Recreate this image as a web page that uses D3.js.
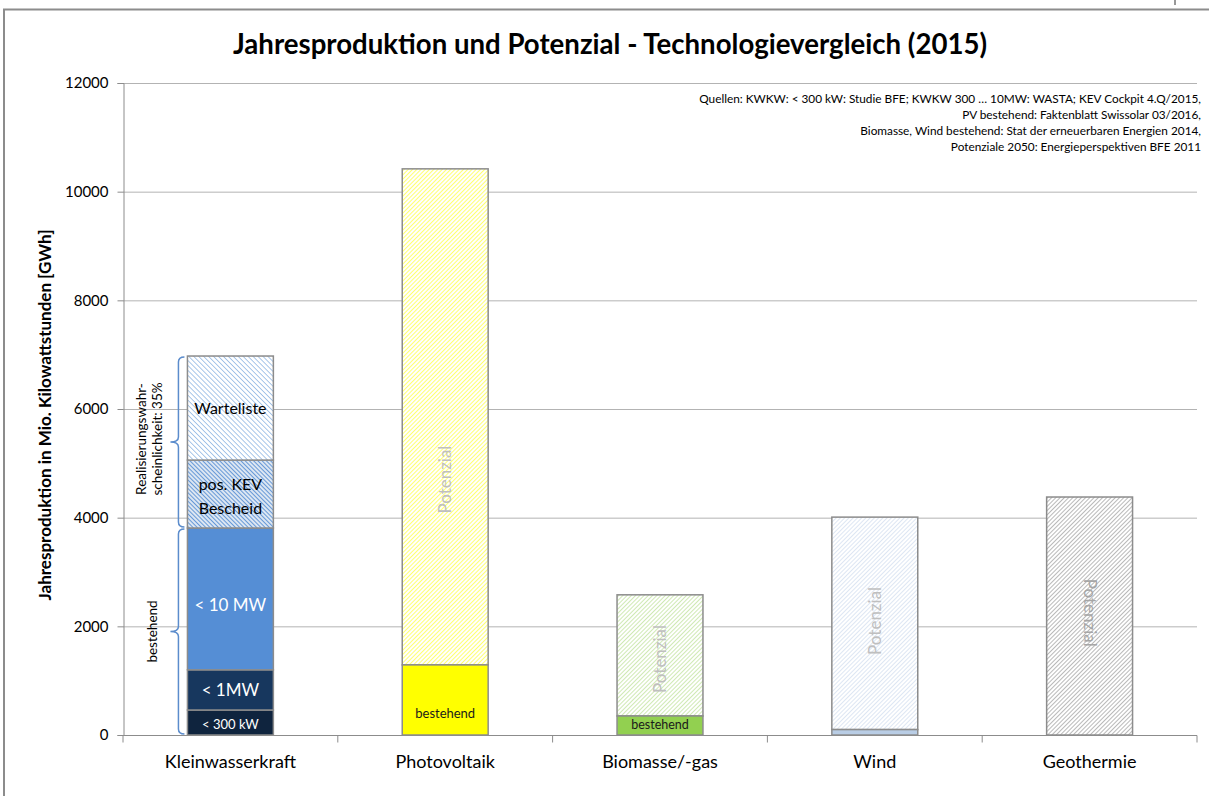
<!DOCTYPE html>
<html>
<head>
<meta charset="utf-8">
<title>Jahresproduktion und Potenzial</title>
<script src="https://cdn.jsdelivr.net/npm/d3@7"></script>
<style>
  body { margin: 0; background: #fff; }
  text { font-family: Lato, "Open Sans", sans-serif; }
</style>
</head>
<body>
<svg id="chart" width="1209" height="796"></svg>
<script>
// --- data ---
const categories = ["Kleinwasserkraft", "Photovoltaik", "Biomasse/-gas", "Wind", "Geothermie"];
const yTicks = [0, 2000, 4000, 6000, 8000, 10000, 12000];

// Kleinwasserkraft: stacked segments (GWh)
const kwkSegments = ["< 300 kW", "< 1MW", "< 10 MW", "pos. KEV Bescheid", "Warteliste"];
const kwkValues = [460, 740, 2610, 1250, 1915];

// other technologies: existing production + potential (GWh)
const otherTech = ["Photovoltaik", "Biomasse/-gas", "Wind", "Geothermie"];
const bestehend = [1290, 350, 100, 0];
const potenzial = [9130, 2230, 3910, 4380];
const potLabelAt = [4700, 1400, 2100, 2250];

const sources = [
  "Quellen: KWKW: < 300 kW: Studie BFE; KWKW 300 … 10MW: WASTA; KEV Cockpit 4.Q/2015,",
  "PV bestehend: Faktenblatt Swissolar 03/2016,",
  "Biomasse, Wind bestehend: Stat der erneuerbaren Energien 2014,",
  "Potenziale 2050: Energieperspektiven BFE 2011"
];

// --- layout ---
const svg = d3.select("#chart");
const margin = {left: 123, right: 12, top: 83, bottom: 61};
const W = 1209, H = 796;

const x = d3.scaleBand().domain(categories)
  .range([margin.left, W - margin.right]).paddingInner(0.6).paddingOuter(0.3);
const y = d3.scaleLinear().domain([0, 12000]).range([H - margin.bottom, margin.top]);

// frame of the chart area
svg.append("path")
  .attr("d", `M4,${H} L4,9.5 L${W},9.5`)
  .attr("fill", "none").attr("stroke", "#8c8c8c").attr("stroke-width", 2);
svg.append("line").attr("x1", 1175).attr("x2", 1175).attr("y1", 0).attr("y2", 5)
  .attr("stroke", "#333").attr("stroke-width", 1);

// patterns
const defs = svg.append("defs");
function hatch(id, bg, fg, size, angle, sw) {
  const p = defs.append("pattern").attr("id", id)
    .attr("patternUnits", "userSpaceOnUse")
    .attr("width", size).attr("height", size)
    .attr("patternTransform", `rotate(${angle})`);
  p.append("rect").attr("width", size).attr("height", size).attr("fill", bg);
  p.append("line").attr("x1", 0).attr("y1", 0).attr("x2", 0).attr("y2", size)
    .attr("stroke", fg).attr("stroke-width", sw);
}
hatch("h-wart", "#ffffff", "#8db4e2", 3.5, -45, 1.5);
hatch("h-kev", "#dce6f2", "#3f7fcf", 3, -45, 1.5);
hatch("h-pv", "#ffffff", "#ffff4d", 3, 45, 1.6);
hatch("h-bio", "#ffffff", "#b5de8c", 3, 45, 1.3);
hatch("h-wind", "#ffffff", "#c6d6ec", 3, 45, 1.2);
hatch("h-geo", "#ffffff", "#7f7f7f", 3, 45, 1.1);

// gridlines
svg.append("g").selectAll("line").data(yTicks.slice(1)).join("line")
  .attr("x1", margin.left).attr("x2", W - margin.right)
  .attr("y1", d => y(d) + 0.5).attr("y2", d => y(d) + 0.5)
  .attr("stroke", "#b3b3b3").attr("stroke-width", 1);

// y axis
const yAxis = svg.append("g").attr("transform", `translate(${margin.left + 0.5},0)`)
  .call(d3.axisLeft(y).tickValues(yTicks).tickFormat(d3.format("d")).tickSize(6).tickPadding(9));
yAxis.select(".domain").attr("stroke", "#8c8c8c");
yAxis.selectAll(".tick line").attr("stroke", "#8c8c8c");
yAxis.selectAll(".tick text").attr("font-size", 15).attr("fill", "#000")
  .style("font-family", "Lato, 'Open Sans', sans-serif");

// x axis
const xAxisG = svg.append("g").attr("transform", `translate(0,${y(0) + 0.5})`);
xAxisG.append("line").attr("x1", margin.left).attr("x2", W - margin.right)
  .attr("stroke", "#8c8c8c");
const edges = d3.range(categories.length + 1).map(i => margin.left + i * (W - margin.right - margin.left) / categories.length);
xAxisG.selectAll("line.tk").data(edges).join("line").attr("class", "tk")
  .attr("x1", d => d).attr("x2", d => d).attr("y1", 0).attr("y2", 7)
  .attr("stroke", "#8c8c8c");
xAxisG.selectAll("text").data(categories).join("text")
  .attr("x", d => x(d) + x.bandwidth() / 2).attr("y", 32)
  .attr("text-anchor", "middle").attr("font-size", 18).attr("fill", "#000")
  .text(d => d);

// Kleinwasserkraft stack
const kwkFill = ["#0f243e", "#17375e", "#558ed5", "url(#h-kev)", "url(#h-wart)"];
const kwkText = ["#fff", "#fff", "#fff", "#000", "#000"];
const kwkSize = [13, 17, 17, 16, 16];
let acc = 0;
const kwkStack = kwkValues.map((v, i) => { const s = {name: kwkSegments[i], y0: acc, y1: acc + v, i}; acc += v; return s; });
const bx = x("Kleinwasserkraft"), bw = x.bandwidth();
svg.append("g").selectAll("rect").data(kwkStack).join("rect")
  .attr("x", bx).attr("width", bw)
  .attr("y", d => y(d.y1)).attr("height", d => y(d.y0) - y(d.y1))
  .attr("fill", d => kwkFill[d.i]).attr("stroke", "#8c8c8c").attr("stroke-width", 1.5);
const kwkLabels = svg.append("g").selectAll("text").data(kwkStack).join("text")
  .attr("text-anchor", "middle").attr("fill", d => kwkText[d.i]).attr("font-size", d => kwkSize[d.i])
  .attr("x", bx + bw / 2)
  .attr("y", d => (y(d.y0) + y(d.y1)) / 2 + (d.name === "< 10 MW" ? 12 : 6));
kwkLabels.each(function(d) {
  const t = d3.select(this);
  if (d.name === "pos. KEV Bescheid") {
    t.append("tspan").attr("x", bx + bw / 2).attr("dy", "-0.65em").text("pos. KEV");
    t.append("tspan").attr("x", bx + bw / 2).attr("dy", "1.5em").text("Bescheid");
  } else {
    t.text(d.name);
  }
});

// other technologies
const solidFill = ["#ffff00", "#92d050", "#b9cde5", "#ffffff"];
const hatchFill = ["url(#h-pv)", "url(#h-bio)", "url(#h-wind)", "url(#h-geo)"];
const labelSize = [13, 12.5, 12, 12];
const potLabelColor = ["#bfbfbf", "#bfbfbf", "#bfbfbf", "#a6a6a6"];
otherTech.forEach((c, i) => {
  const g = svg.append("g");
  const x0 = x(c);
  g.append("rect").attr("x", x0).attr("width", bw)
    .attr("y", y(bestehend[i] + potenzial[i])).attr("height", y(bestehend[i]) - y(bestehend[i] + potenzial[i]))
    .attr("fill", hatchFill[i]).attr("stroke", "#8c8c8c").attr("stroke-width", 1.5);
  if (bestehend[i] > 0) {
    g.append("rect").attr("x", x0).attr("width", bw)
      .attr("y", y(bestehend[i])).attr("height", y(0) - y(bestehend[i]))
      .attr("fill", solidFill[i]).attr("stroke", "#8c8c8c").attr("stroke-width", 1.5);
  }
  if (bestehend[i] > 200) {
    g.append("text").attr("x", x0 + bw / 2)
      .attr("y", i === 0 ? y(bestehend[i] * 0.3) + 4 : y(bestehend[i] / 2) + 4)
      .attr("text-anchor", "middle").attr("font-size", labelSize[i]).attr("fill", "#1a1a1a")
      .text("bestehend");
  }
  const ly = y(potLabelAt[i]);
  const rot = c === "Geothermie" ? 90 : -90;
  g.append("text")
    .attr("transform", `translate(${x0 + bw / 2 + (rot > 0 ? -6 : 6)},${ly}) rotate(${rot})`)
    .attr("text-anchor", "middle").attr("font-size", 17).attr("fill", potLabelColor[i])
    .text("Potenzial");
});

// curly braces for Kleinwasserkraft
function brace(v0, v1) {
  const xb = bx - 9, top = y(v1), bot = y(v0), mid = (top + bot) / 2;
  return `M${xb + 6},${top + 1} Q${xb},${top + 1} ${xb},${top + 6} L${xb},${mid - 5} Q${xb},${mid} ${xb - 8},${mid}` +
    ` Q${xb},${mid} ${xb},${mid + 5} L${xb},${bot - 6} Q${xb},${bot - 1} ${xb + 6},${bot - 1}`;
}
const bestehendTop = d3.sum(kwkValues.slice(0, 3));
const total = d3.sum(kwkValues);
svg.append("path").attr("d", brace(0, bestehendTop))
  .attr("fill", "none").attr("stroke", "#5b8ccc").attr("stroke-width", 1.5);
svg.append("path").attr("d", brace(bestehendTop, total))
  .attr("fill", "none").attr("stroke", "#5b8ccc").attr("stroke-width", 1.5);
const midB = (y(0) + y(bestehendTop)) / 2;
svg.append("text").attr("transform", `translate(157,${midB}) rotate(-90)`)
  .attr("text-anchor", "middle").attr("font-size", 13.5).attr("fill", "#000").text("bestehend");
const midR = (y(bestehendTop) + y(total)) / 2;
const rt = svg.append("text").attr("transform", `translate(146,${midR - 3}) rotate(-90)`)
  .attr("text-anchor", "middle").attr("font-size", 13.5).attr("fill", "#000");
rt.append("tspan").attr("x", 0).attr("dy", 0).text("Realisierungswahr-");
rt.append("tspan").attr("x", 0).attr("dy", 16).text("scheinlichkeit: 35%");

// title
svg.append("text").attr("x", 610).attr("y", 54).attr("text-anchor", "middle")
  .attr("font-size", 27.6).attr("font-weight", "bold").attr("fill", "#000")
  .text("Jahresproduktion und Potenzial - Technologievergleich (2015)");

// y axis title
svg.append("text").attr("transform", `translate(51,${(y(0) + y(12000)) / 2 + 6}) rotate(-90)`)
  .attr("text-anchor", "middle").attr("font-size", 17).attr("font-weight", "bold").attr("fill", "#000")
  .text("Jahresproduktion in Mio. Kilowattstunden [GWh]");

// sources
svg.append("g").selectAll("text").data(sources).join("text")
  .attr("x", 1201).attr("y", (d, i) => 103 + i * 16)
  .attr("text-anchor", "end").attr("font-size", 11.8).attr("fill", "#000")
  .text(d => d);
</script>
</body>
</html>
